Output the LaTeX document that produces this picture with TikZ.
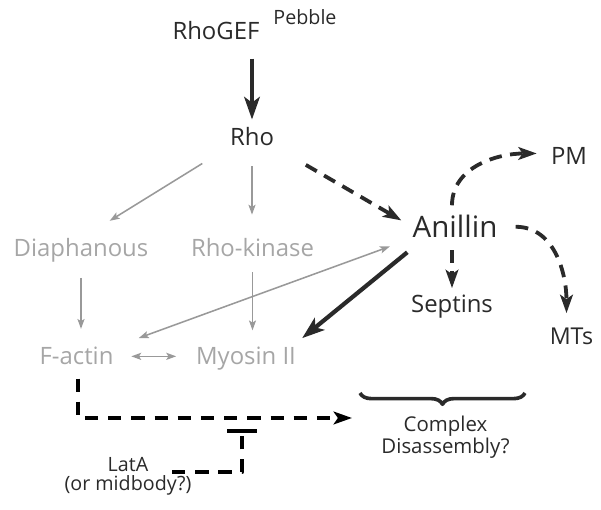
\documentclass[tikz,border=0pt]{standalone}
\usepackage{fontspec}
\setmainfont{Open Sans}
\usetikzlibrary{arrows.meta,calc,positioning,decorations.pathreplacing}
\definecolor{ink}{HTML}{2A2A2A}
\definecolor{fade}{HTML}{A6A6A6}
\definecolor{fadeline}{HTML}{999999}
\newcommand{\fsz}[1]{\fontsize{#1}{#1}\selectfont}
\begin{document}
\begin{tikzpicture}[x=0.025cm, y=-0.025cm, line join=round,
	gene/.style={text=ink, inner sep=0pt, anchor=base},
	faded/.style={text=fade, inner sep=0pt, anchor=base, font=\fsz{17}},
	blackarr/.style={ink, line width=3pt, -{Stealth[length=16pt,width=11pt,inset=4pt]}},
	dasharr/.style={ink, line width=2.7pt, dash pattern=on 9pt off 6pt, -{Stealth[length=13pt,width=9pt,inset=3pt]}},
	grayarr/.style={fadeline, line width=1.1pt, -{Stealth[length=7pt,width=5pt,inset=1.5pt]}},
	graydbl/.style={fadeline, line width=1.1pt, {Stealth[length=7pt,width=5pt,inset=1.5pt]}-{Stealth[length=7pt,width=5pt,inset=1.5pt]}},
	blockline/.style={black, line width=2.9pt, dash pattern=on 9.5pt off 7pt}]
	\useasboundingbox (0,0) rectangle (601,510);
	% black nodes
	\node[gene, font=\fsz{17}] (gef) at (216,40) {RhoGEF};
	\node[gene, font=\fsz{14}] (pebble) at (305,25) {Pebble};
	\node[gene, font=\fsz{17}] (rho) at (252,146) {Rho};
	\node[gene, font=\fsz{21}] (anillin) at (455,238) {Anillin};
	\node[gene, font=\fsz{17}] (pm) at (569,165) {PM};
	\node[gene, font=\fsz{17}] (septins) at (452,313) {Septins};
	\node[gene, font=\fsz{16.5}] (mts) at (571.5,345) {MTs};
	\node[text=ink, inner sep=0pt, align=center, font=\fsz{14.5}] (complex) at (445.5,437) {Complex\\[1pt]Disassembly?};
	\node[text=ink, inner sep=0pt, align=center, font=\fsz{14}] (lata) at (128,476.5) {LatA\\[-0.5pt](or midbody?)};
	% gray nodes
	\node[faded] (diaph) at (81,257) {Diaphanous};
	\node[faded] (rhok) at (252.5,257) {Rho-kinase};
	\node[faded] (factin) at (76.5,365) {F-actin};
	\node[faded] (myosin) at (246,365) {Myosin II};
	% free ends
	\coordinate (disasm) at (352,418);
	\coordinate (latablock) at (242,429);
	\coordinate (brL) at (360,393);
	\coordinate (brR) at (525,393);
	% gray connectors
	\draw[grayarr, shorten <=23pt, shorten >=24pt] (rho.south west) -- (diaph.north);
	\draw[grayarr, shorten <=14pt, shorten >=17pt] (rho.south) -- (rho.south |- rhok.north);
	\draw[grayarr, shorten <=10.5pt, shorten >=13pt] (diaph.south) -- (diaph.south |- factin.north);
	\draw[grayarr, shorten <=10.5pt, shorten >=12pt] (rhok.south) -- (rhok.south |- myosin.north);
	\draw[graydbl, shorten <=12.5pt, shorten >=14pt] (factin.east) -- (factin.east -| myosin.west);
	\draw[graydbl, shorten <=17pt, shorten >=19pt] (anillin.south west) -- (factin.north east);
	% black connectors
	\draw[blackarr, shorten <=12.8pt, shorten >=5.7pt] (gef.south -| rho) -- (rho.north);
	\draw[blackarr] ($(anillin.south west)+(-5,14)$) -- ($(myosin.north east)+(6,-9)$);
	\draw[dasharr, shorten <=26pt, shorten >=9pt] (rho.south east) -- (anillin.west);
	\draw[dasharr] ($(anillin.north)+(-3,-10)$) to[out=90, in=180] ($(pm.west)+(-14,-3)$);
	\draw[dasharr, shorten <=8.5pt, shorten >=5pt] (septins.north |- anillin.south) -- (septins.north);
	\draw[dasharr] ($(anillin.east)+(18,0)$) to[out=0, in=90] ($(mts.north)+(-5,-15)$);
	% disassembly
	\draw[blockline, -{Stealth[length=13pt,width=9pt,inset=3pt]}] (factin.south) ++(1.5,13) |- (disasm);
	\draw[blockline, -{Bar[width=21pt,line width=2.9pt]}] ($(lata.north)+(44,15)$) -| (latablock);
	\draw[ink, line width=2.6pt, decorate, decoration={brace, mirror, amplitude=8pt}] (brL) -- (brR);
\end{tikzpicture}
\end{document}
